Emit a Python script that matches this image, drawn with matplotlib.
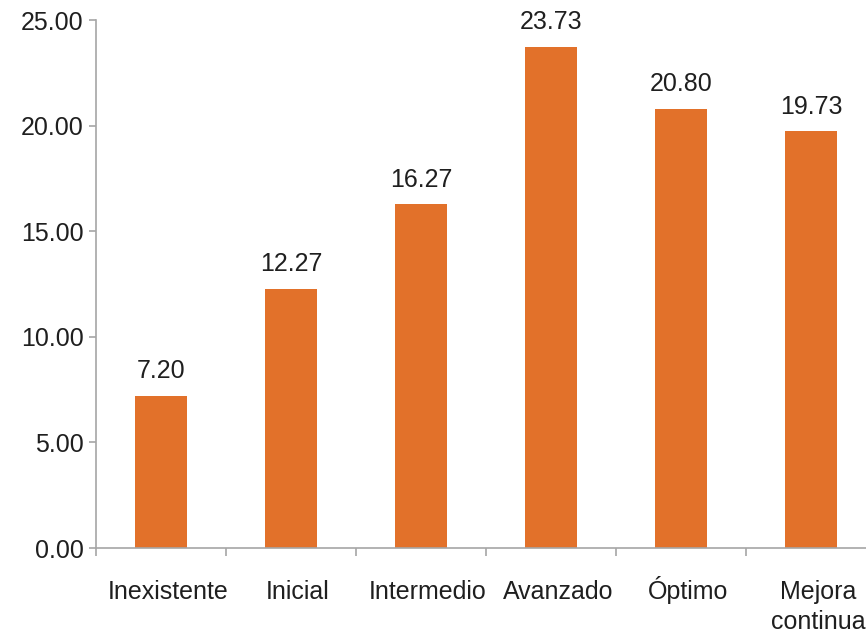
import matplotlib
matplotlib.use("Agg")
import matplotlib.pyplot as plt
from matplotlib.ticker import FormatStrFormatter, FixedLocator
from matplotlib.transforms import ScaledTranslation
import numpy as np

categories = ["Inexistente", "Inicial", "Intermedio", "Avanzado", "Óptimo", "Mejora\ncontinua"]
values = [7.20, 12.27, 16.27, 23.73, 20.80, 19.73]
y_ticks = [0, 5, 10, 15, 20, 25]

bar_color = "#E2712A"
axis_color = "#A6A6A6"
text_color = "#1F1F1F"

plt.rcParams["font.family"] = ["Liberation Sans", "DejaVu Sans"]

fig = plt.figure(figsize=(8.66, 6.33), dpi=100)
ax = fig.add_axes([96 / 866, 85 / 633, 780 / 866, 528 / 633])

x = np.arange(len(categories))
ax.bar(x, values, width=0.4, color=bar_color, zorder=2)

for xi, v in zip(x, values):
    ax.annotate(f"{v:.2f}", (xi, v), xytext=(0, 9), textcoords="offset points",
                ha="center", va="bottom", fontsize=18, color=text_color)

ax.set_xlim(-0.5, len(categories) - 0.5)
ax.set_ylim(0, 25)
ax.set_yticks(y_ticks)
ax.yaxis.set_major_formatter(FormatStrFormatter("%.2f"))

ax.set_xticks(x)
ax.set_xticklabels(categories, fontsize=18, color=text_color, linespacing=1.3)
ax.xaxis.set_minor_locator(FixedLocator(np.arange(-0.5, len(categories), 1.0)))
ax.tick_params(axis="x", which="major", length=0, pad=23)
ax.tick_params(axis="x", which="minor", length=6, width=1.2, color=axis_color)
ax.tick_params(axis="y", which="major", length=5, width=1.2, color=axis_color,
               labelsize=18, labelcolor=text_color, pad=4)

# category labels sit slightly right of the bar centres; labels with an
# accented capital are raised so that all baselines line up
for lbl in ax.get_xticklabels():
    dy = 4 / 100 if "Ó" in lbl.get_text() else 0
    shift = ScaledTranslation(7 / 100, dy, fig.dpi_scale_trans)
    lbl.set_transform(lbl.get_transform() + shift)

for side in ["top", "right"]:
    ax.spines[side].set_visible(False)
for side in ["left", "bottom"]:
    ax.spines[side].set_color(axis_color)
    ax.spines[side].set_linewidth(1.2)

fig.savefig("out.png", dpi=100)
